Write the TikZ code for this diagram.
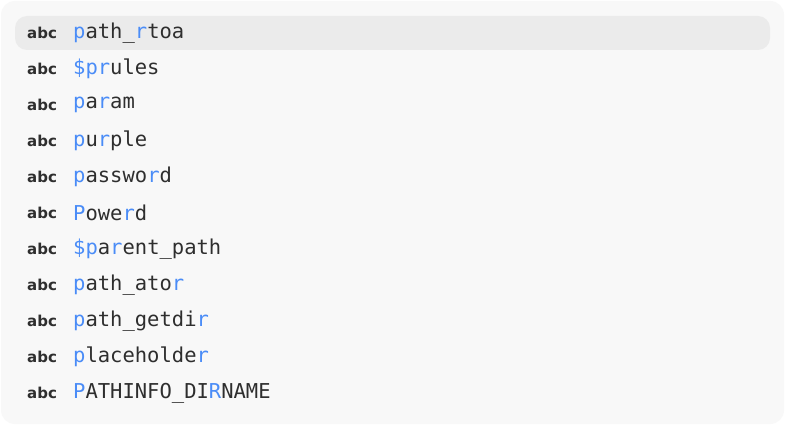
\documentclass[tikz,border=0pt]{standalone}
\usepackage{fontspec}
\setmainfont{DejaVu Sans}
\setmonofont{DejaVu Sans Mono}
\definecolor{blu}{HTML}{4A8CF7}
\definecolor{txt}{HTML}{2E2E2E}
\definecolor{card}{HTML}{F8F8F8}
\definecolor{hl}{HTML}{EBEBEB}
\newcommand{\B}[1]{\textcolor{blu}{#1}}
\begin{document}
\begin{tikzpicture}[x=1pt,y=-1pt,
  kind/.style={anchor=west,inner sep=0pt,font=\fontsize{15}{18}\selectfont\bfseries,text=txt},
  item/.style={anchor=west,inner sep=0pt,font=\ttfamily\fontsize{20.5}{24}\selectfont,text=txt}]
\useasboundingbox (0,0) rectangle (785,425);
\fill[white] (0,0) rectangle (785,425);
\fill[card,rounded corners=14pt] (1,1) rectangle (784,424);
\fill[hl,rounded corners=12pt] (15,16) rectangle (770,50);
\foreach \i/\t in {0/{\B{p}ath\_\B{r}toa},1/{\B{\$pr}ules},2/{\B{p}a\B{r}am},3/{\B{p}u\B{r}ple},4/{\B{p}asswo\B{r}d},5/{\B{P}owe\B{r}d},6/{\B{\$p}a\B{r}ent\_path},7/{\B{p}ath\_ato\B{r}},8/{\B{p}ath\_getdi\B{r}},9/{\B{p}laceholde\B{r}},10/{\B{P}ATHINFO\_DI\B{R}NAME}}{
  \node[kind] (k\i) at (27,{33+36*\i}) {abc};
  \node[item] (n\i) at (73,{33+36*\i}) {\t};
}
\end{tikzpicture}
\end{document}
